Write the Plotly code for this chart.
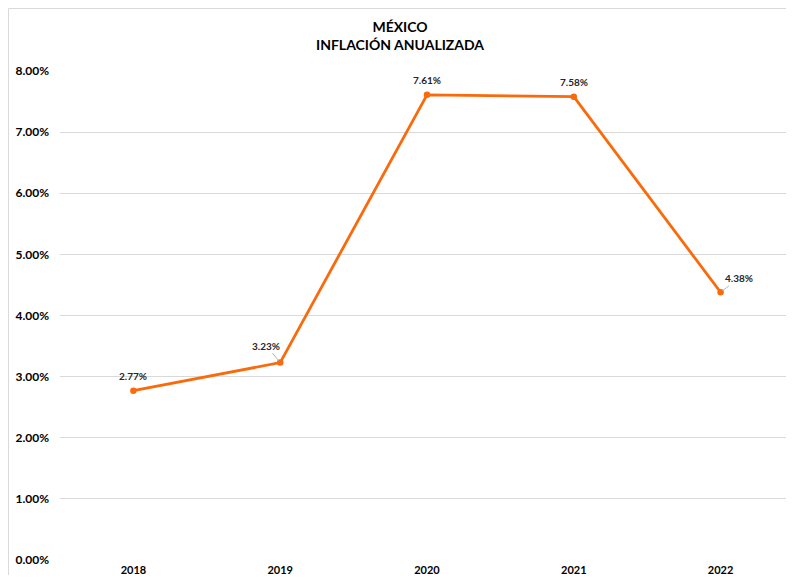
import plotly.graph_objects as go

years = ["2018", "2019", "2020", "2021", "2022"]
inflation = [2.77, 3.23, 7.61, 7.58, 4.38]
labels = ["2.77%", "3.23%", "7.61%", "7.58%", "4.38%"]
y_ticks = [0, 1, 2, 3, 4, 5, 6, 7, 8]
y_tick_text = ["0.00%", "1.00%", "2.00%", "3.00%", "4.00%", "5.00%", "6.00%", "7.00%", "8.00%"]

orange = "#FA6A0A"
font_family = "Lato, 'Open Sans', sans-serif"
xpos = list(range(len(years)))

fig = go.Figure()
fig.add_trace(go.Scatter(
    x=xpos, y=inflation, mode="lines+markers",
    line=dict(color=orange, width=2.8),
    marker=dict(color=orange, size=6.5),
    hoverinfo="skip", showlegend=False,
))

# label offsets (pixels) for leader-line labels
offsets = {1: (-14, -17), 4: (18, -14)}
for i, (v, t) in enumerate(zip(inflation, labels)):
    if i in offsets:
        ax, ay = offsets[i]
        fig.add_annotation(x=xpos[i], y=v, text=t, showarrow=True,
                           ax=ax, ay=ay, arrowhead=0, arrowwidth=0.8,
                           arrowcolor="#A6A6A6", standoff=2,
                           font=dict(size=10, color="#262626", family=font_family, weight="bold"))
    else:
        fig.add_annotation(x=xpos[i], y=v, text=t, showarrow=False,
                           yshift=15,
                           font=dict(size=10, color="#262626", family=font_family, weight="bold"))

fig.add_annotation(xref="paper", yref="paper", x=0.463, y=1.0, yanchor="bottom",
                   yshift=16, showarrow=False, align="center",
                   text="MÉXICO<br>INFLACIÓN ANUALIZADA",
                   font=dict(size=14, color="#000000", family=font_family, weight="bold"))

# outer chart frame
fig.add_shape(type="rect", xref="paper", yref="paper",
              x0=-0.0702, x1=1.05, y0=-0.1, y1=1.1278,
              line=dict(color="#D9D9D9", width=1), layer="below")

fig.update_layout(
    width=786, height=567,
    margin=dict(l=52, r=0, t=63, b=15),
    paper_bgcolor="white", plot_bgcolor="white",
    font=dict(family=font_family, color="#000000"),
    xaxis=dict(range=[-0.5, 4.5], tickvals=xpos, ticktext=years,
               showgrid=False, showline=False, zeroline=False,
               ticks="", tickfont=dict(size=11, color="#000000", family=font_family, weight="bold"),
               ticklabelstandoff=2),
    yaxis=dict(range=[0, 8], tickvals=y_ticks, ticktext=y_tick_text,
               showgrid=True, gridcolor="#D9D9D9", gridwidth=1, zeroline=False,
               showline=False, ticks="",
               tickfont=dict(size=12, color="#000000", family=font_family, weight="bold"),
               ticklabelstandoff=10),
)

fig.write_html("out.html")
